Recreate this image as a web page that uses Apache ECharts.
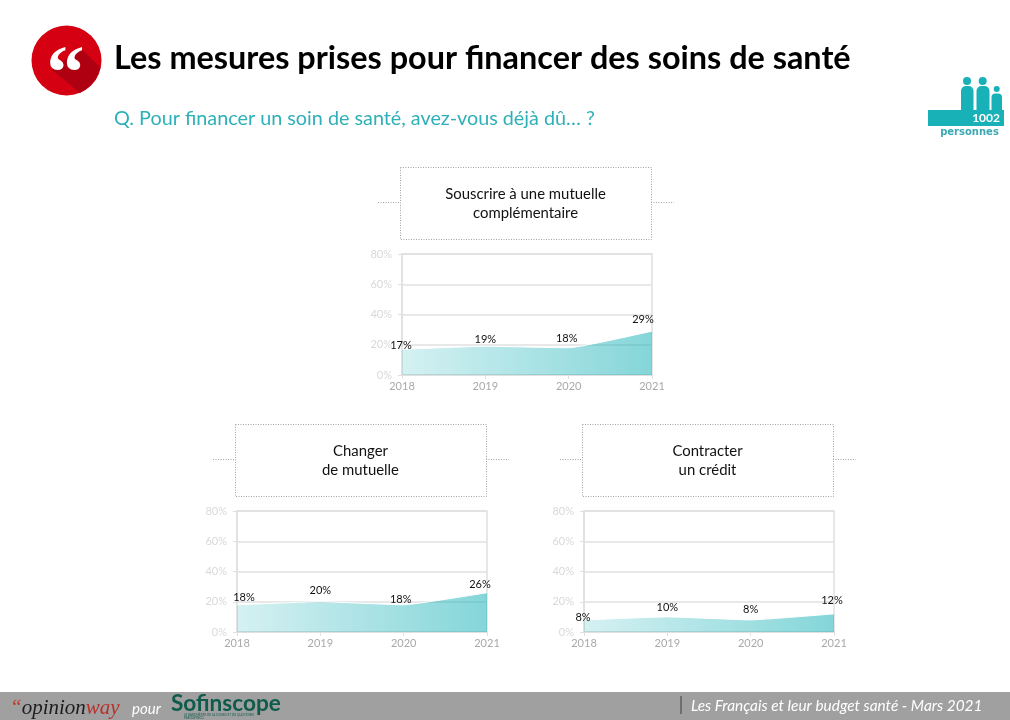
<!DOCTYPE html>
<html lang="fr">
<head>
<meta charset="utf-8">
<title>Les mesures prises pour financer des soins de santé</title>
<script src="https://cdn.jsdelivr.net/npm/echarts@6/dist/echarts.min.js"></script>
<style>
  html, body { margin: 0; padding: 0; background: #fff; }
  #chart { width: 1010px; height: 720px; }
</style>
</head>
<body>
<div id="chart"></div>
<script>
const years = ["2018", "2019", "2020", "2021"];
const souscrire = [17, 19, 18, 29];
const changer = [18, 20, 18, 26];
const credit = [8, 10, 8, 12];

const titleSouscrire = "Souscrire à une mutuelle\ncomplémentaire";
const titleChanger = "Changer\nde mutuelle";
const titleCredit = "Contracter\nun crédit";

// nudges for the data labels, the source deck placed them by hand
const offsetsSouscrire = [[-1, 7], [0, 4], [-2, 2], [-9, -1]];
const offsetsChanger = [[7, 4], [0, 0], [-3, 5.5], [-7, 3]];
const offsetsCredit = [[-1, 9], [0, 2], [0, 1], [-2, -2]];

const FONT = "Lato, 'Noto Sans', sans-serif";
const TEAL = "#17b1b7";
const GRID_LINE = "#e0e0e0";

const panels = [
  { left: 402, top: 254, values: souscrire, offsets: offsetsSouscrire, title: titleSouscrire },
  { left: 237, top: 511, values: changer, offsets: offsetsChanger, title: titleChanger },
  { left: 584, top: 511, values: credit, offsets: offsetsCredit, title: titleCredit }
];

const grids = [];
const xAxes = [];
const yAxes = [];
const series = [];
const graphics = [];

panels.forEach(function (p, i) {
  grids.push({
    left: p.left, top: p.top, width: 250, height: 121,
    show: true, borderColor: GRID_LINE, borderWidth: 1.5, backgroundColor: "transparent"
  });
  xAxes.push({
    gridIndex: i, type: "category", data: years, boundaryGap: false,
    axisLine: { lineStyle: { color: GRID_LINE, width: 1.5 } },
    axisTick: { show: true, alignWithLabel: true, length: 4, lineStyle: { color: GRID_LINE } },
    axisLabel: { color: "#a9a9a9", fontFamily: FONT, fontSize: 11, margin: 6, hideOverlap: false, showMinLabel: true, showMaxLabel: true },
    splitLine: { show: false }
  });
  yAxes.push({
    gridIndex: i, type: "value", min: 0, max: 80, interval: 20,
    axisLine: { show: true, lineStyle: { color: GRID_LINE, width: 1.5 } },
    axisTick: { show: true, length: 4, lineStyle: { color: GRID_LINE } },
    axisLabel: { color: "#d9d9d9", fontFamily: FONT, fontSize: 11, margin: 10, formatter: "{value}%" },
    splitLine: { show: true, lineStyle: { color: GRID_LINE, width: 1.5 } }
  });
  series.push({
    type: "line", xAxisIndex: i, yAxisIndex: i, smooth: 0.12,
    showSymbol: true, symbol: "circle", symbolSize: 1, animation: false,
    itemStyle: { color: "rgba(255,255,255,0)" },
    lineStyle: { color: "#ffffff", width: 1 },
    areaStyle: {
      opacity: 1,
      color: {
        type: "linear", x: 0, y: 0, x2: 1, y2: 0,
        colorStops: [
          { offset: 0, color: "rgba(23,177,183,0.18)" },
          { offset: 1, color: "rgba(23,177,183,0.53)" }
        ]
      }
    },
    z: 3,
    data: p.values.map(function (v, j) {
      return {
        value: v,
        label: {
          show: true, position: "top", distance: 5, offset: p.offsets[j],
          formatter: v + "%", color: "#111", fontFamily: FONT, fontSize: 11
        }
      };
    })
  });

  // dotted title box with its two small side dashes
  const bx = p.left - 2;
  const by = p.top - 87;
  const dotted = { stroke: "#a3a3a3", lineWidth: 1, lineDash: [1, 1.5], fill: null };
  graphics.push(
    { type: "rect", shape: { x: bx + 0.5, y: by + 0.5, width: 251, height: 72 }, style: dotted },
    { type: "line", shape: { x1: bx - 22, y1: by + 35.5, x2: bx, y2: by + 35.5 }, style: dotted },
    { type: "line", shape: { x1: bx + 251, y1: by + 35.5, x2: bx + 274, y2: by + 35.5 }, style: dotted },
    {
      type: "text", x: bx + 125.5, y: by + 36.5,
      style: {
        text: p.title, fill: "#111", font: "14.9px " + FONT, lineHeight: 19,
        align: "center", verticalAlign: "middle"
      }
    }
  );
});

// header: quote badge, title and question
graphics.push(
  { type: "circle", shape: { cx: 66.5, cy: 60.5, r: 35 }, style: { fill: "#d50012" } },
  {
    type: "polygon",
    shape: { points: [[80, 47], [100.5, 68], [96, 79], [89, 87], [80, 93], [52, 70]] },
    style: { fill: "#ae0010" }
  },
  {
    type: "text", x: 65.5, y: 78,
    style: { text: "\u201C", fill: "#fff", font: "bold 76px 'Liberation Serif', serif", align: "center", verticalAlign: "middle" }
  },
  {
    type: "text", x: 114, y: 59,
    style: { text: "Les mesures prises pour financer des soins de santé", fill: "#000", font: "bold 32.4px " + FONT, verticalAlign: "middle" }
  },
  {
    type: "text", x: 114, y: 118.5,
    style: { text: "Q. Pour financer un soin de santé, avez-vous déjà dû… ?", fill: "#2fb0b8", font: "19.8px " + FONT, verticalAlign: "middle" }
  }
);

// sample size badge
graphics.push(
  { type: "circle", shape: { cx: 967, cy: 81, r: 4 }, style: { fill: TEAL } },
  { type: "circle", shape: { cx: 982.7, cy: 81, r: 4 }, style: { fill: TEAL } },
  { type: "circle", shape: { cx: 996.7, cy: 89, r: 3 }, style: { fill: TEAL } },
  { type: "rect", shape: { x: 961, y: 86, width: 12.5, height: 26, r: [5, 5, 0, 0] }, style: { fill: TEAL } },
  { type: "rect", shape: { x: 976.5, y: 86, width: 13, height: 26, r: [5, 5, 0, 0] }, style: { fill: TEAL } },
  { type: "rect", shape: { x: 991.5, y: 93.5, width: 10.5, height: 18, r: [4, 4, 0, 0] }, style: { fill: TEAL } },
  { type: "rect", shape: { x: 928, y: 110, width: 76, height: 16 }, style: { fill: TEAL } },
  {
    type: "text", x: 1000, y: 118.5,
    style: { text: "1002", fill: "#fff", font: "bold 12px " + FONT, align: "right", verticalAlign: "middle" }
  },
  {
    type: "text", x: 969.5, y: 132,
    style: { text: "personnes", fill: "#3aa9b2", font: "bold 10px 'DejaVu Sans', sans-serif", align: "center", verticalAlign: "middle" }
  }
);

// footer band
graphics.push(
  { type: "rect", shape: { x: 0, y: 692, width: 1010, height: 28 }, style: { fill: "#a0a0a0" } },
  {
    type: "text", x: 10, y: 708,
    style: {
      text: "{q|\u201C}{a|opinion}{b|way}",
      verticalAlign: "middle",
      rich: {
        q: { fill: "#c0392b", font: "italic 21px 'Liberation Serif', serif" },
        a: { fill: "#1c1c1c", font: "italic 21px 'Liberation Serif', serif" },
        b: { fill: "#b8312a", font: "italic 21px 'Liberation Serif', serif" }
      }
    }
  },
  {
    type: "text", x: 132, y: 709,
    style: { text: "pour", fill: "#fff", font: "italic 15px " + FONT, verticalAlign: "middle" }
  },
  {
    type: "text", x: 171, y: 704,
    style: { text: "Sofinscope", fill: "#0f5b4c", font: "bold 22.6px " + FONT, verticalAlign: "middle" }
  },
  {
    type: "text", x: 184, y: 715,
    style: { text: "LE BAROMÈTRE DE LA CONSO ET DU QUOTIDIEN", fill: "#0f5b4c", font: "3px " + FONT, verticalAlign: "middle" }
  },
  {
    type: "text", x: 184, y: 718.5,
    style: { text: "PAR SOFINCO", fill: "#0f5b4c", font: "3px " + FONT, verticalAlign: "middle" }
  },
  { type: "line", shape: { x1: 681, y1: 696, x2: 681, y2: 714 }, style: { stroke: "#4d4d4d", lineWidth: 1.2 } },
  {
    type: "text", x: 691, y: 706,
    style: { text: "Les Français et leur budget santé - Mars 2021", fill: "#fff", font: "italic 15.4px " + FONT, verticalAlign: "middle" }
  }
);

const chart = echarts.init(document.getElementById("chart"), null, { renderer: "canvas" });
chart.setOption({
  animation: false,
  backgroundColor: "#fff",
  grid: grids,
  xAxis: xAxes,
  yAxis: yAxes,
  series: series,
  graphic: graphics
});
</script>
</body>
</html>
